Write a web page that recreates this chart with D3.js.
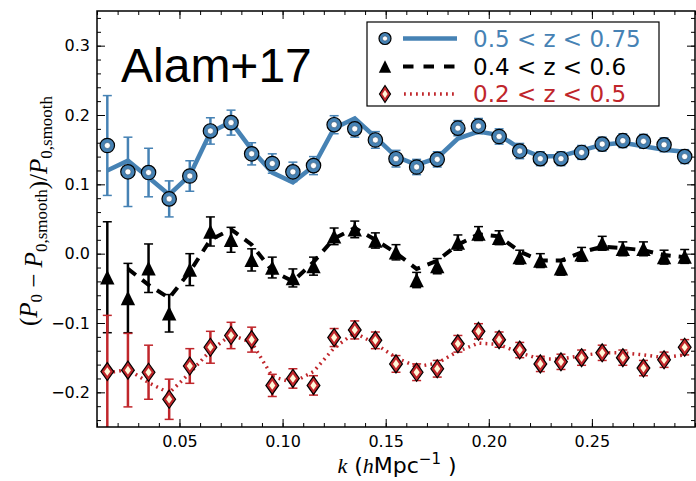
<!DOCTYPE html>
<html>
<head>
<meta charset="utf-8">
<script src="https://cdn.jsdelivr.net/npm/d3@7"></script>
<style>
  body { margin: 0; background: #fff; }
  .tick text { font-family: "DejaVu Sans", sans-serif; font-size: 16px; fill: #000; }
  .tick line { stroke: #000; stroke-width: 1; }
</style>
</head>
<body>
<svg id="chart" width="696" height="481"></svg>
<script>
// k bins (h/Mpc)
const kValues = [0.015, 0.025, 0.035, 0.045, 0.055, 0.065, 0.075, 0.085, 0.095, 0.105,
  0.115, 0.125, 0.135, 0.145, 0.155, 0.165, 0.175, 0.185, 0.195, 0.205,
  0.215, 0.225, 0.235, 0.245, 0.255, 0.265, 0.275, 0.285, 0.295];

// 0.5 < z < 0.75
const blueData = [0.156, 0.118, 0.117, 0.079, 0.112, 0.177, 0.189, 0.144, 0.130, 0.118,
  0.127, 0.186, 0.180, 0.164, 0.137, 0.125, 0.136, 0.181, 0.184, 0.169,
  0.148, 0.137, 0.137, 0.146, 0.158, 0.163, 0.162, 0.157, 0.140];
const blueErr = [0.072, 0.050, 0.035, 0.026, 0.022, 0.019, 0.018, 0.016, 0.014, 0.014,
  0.013, 0.013, 0.012, 0.012, 0.012, 0.011, 0.011, 0.011, 0.011, 0.011,
  0.011, 0.010, 0.010, 0.010, 0.010, 0.010, 0.010, 0.010, 0.010];
const blueModel = [0.120, 0.134, 0.110, 0.085, 0.113, 0.175, 0.190, 0.150, 0.117, 0.103,
  0.126, 0.181, 0.195, 0.168, 0.140, 0.128, 0.138, 0.166, 0.176, 0.171,
  0.152, 0.140, 0.141, 0.149, 0.157, 0.160, 0.155, 0.150, 0.147];

// 0.4 < z < 0.6
const blackData = [-0.034, -0.064, -0.021, -0.086, -0.023, 0.032, 0.020, -0.009, -0.020, -0.035,
  -0.018, 0.025, 0.035, 0.019, 0.002, -0.038, -0.018, 0.016, 0.029, 0.023,
  -0.005, -0.010, -0.021, -0.001, 0.015, 0.007, 0.007, -0.005, -0.004];
const blackErr = [0.080, 0.050, 0.035, 0.027, 0.023, 0.021, 0.018, 0.016, 0.015, 0.013,
  0.013, 0.012, 0.012, 0.011, 0.011, 0.011, 0.011, 0.011, 0.010, 0.010,
  0.010, 0.010, 0.010, 0.010, 0.010, 0.010, 0.010, 0.010, 0.010];
// model starts at the second bin
const blackModel = [null, -0.022, -0.045, -0.064, -0.026, 0.020, 0.035, 0.013, -0.025, -0.040,
  -0.012, 0.022, 0.037, 0.020, 0.001, -0.022, -0.010, 0.013, 0.028, 0.025,
  0.003, -0.010, -0.010, 0.002, 0.010, 0.008, 0.005, -0.002, -0.005];

// 0.2 < z < 0.5
const redData = [-0.170, -0.168, -0.171, -0.210, -0.162, -0.135, -0.118, -0.124, -0.190, -0.180,
  -0.190, -0.121, -0.110, -0.125, -0.159, -0.171, -0.166, -0.130, -0.112, -0.124,
  -0.139, -0.159, -0.156, -0.150, -0.143, -0.150, -0.165, -0.153, -0.135];
const redErr = [0.081, 0.053, 0.039, 0.029, 0.025, 0.023, 0.019, 0.018, 0.016, 0.014,
  0.014, 0.013, 0.013, 0.012, 0.012, 0.012, 0.012, 0.012, 0.011, 0.011,
  0.011, 0.011, 0.011, 0.011, 0.011, 0.011, 0.011, 0.011, 0.011];
const redModel = [-0.172, -0.167, -0.186, -0.201, -0.172, -0.140, -0.117, -0.128, -0.177, -0.186,
  -0.170, -0.136, -0.114, -0.130, -0.150, -0.163, -0.158, -0.141, -0.129, -0.131,
  -0.143, -0.152, -0.152, -0.147, -0.143, -0.143, -0.146, -0.150, -0.146];

const xTicks = [0.05, 0.10, 0.15, 0.20, 0.25];
const yTicks = [-0.2, -0.1, 0.0, 0.1, 0.2, 0.3];
const legendLabels = ['0.5 < z < 0.75', '0.4 < z < 0.6', '0.2 < z < 0.5'];

const blue = '#4682b4';
const red = '#c0262b';
const cream = '#fff6d8';

const svg = d3.select('#chart');
const plotLeft = 97, plotRight = 695, plotTop = 11, plotBottom = 427;

const x = d3.scaleLinear().domain([0.01, 0.30]).range([plotLeft, plotRight]);
const y = d3.scaleLinear().domain([-0.25, 0.35]).range([plotBottom, plotTop]);

svg.append('defs').append('clipPath').attr('id', 'clip')
  .append('rect').attr('x', plotLeft).attr('y', plotTop)
  .attr('width', plotRight - plotLeft).attr('height', plotBottom - plotTop);

// axes: major + minor ticks on all four sides, pointing in
const xMinor = d3.range(0.01, 0.3001, 0.01);
const yMinor = d3.range(-0.24, 0.3501, 0.02);

svg.append('g').attr('transform', `translate(0,${plotBottom})`)
  .call(d3.axisBottom(x).tickValues(xMinor).tickSize(-4).tickFormat(''));
svg.append('g').attr('transform', `translate(0,${plotBottom})`)
  .call(d3.axisBottom(x).tickValues(xTicks).tickSize(-8).tickPadding(9).tickFormat(d3.format('.2f')));
svg.append('g').attr('transform', `translate(0,${plotTop})`)
  .call(d3.axisTop(x).tickValues(xMinor).tickSize(-4).tickFormat(''));
svg.append('g').attr('transform', `translate(0,${plotTop})`)
  .call(d3.axisTop(x).tickValues(xTicks).tickSize(-8).tickFormat(''));

svg.append('g').attr('transform', `translate(${plotLeft},0)`)
  .call(d3.axisLeft(y).tickValues(yMinor).tickSize(-4).tickFormat(''));
svg.append('g').attr('transform', `translate(${plotLeft},0)`)
  .call(d3.axisLeft(y).tickValues(yTicks).tickSize(-8).tickPadding(7).tickFormat(d3.format('.1f')));
svg.append('g').attr('transform', `translate(${plotRight},0)`)
  .call(d3.axisRight(y).tickValues(yMinor).tickSize(-4).tickFormat(''));
svg.append('g').attr('transform', `translate(${plotRight},0)`)
  .call(d3.axisRight(y).tickValues(yTicks).tickSize(-8).tickFormat(''));

svg.selectAll('.domain').remove();

const plot = svg.append('g').attr('clip-path', 'url(#clip)');

// error bars
function errorBars(vals, errs, color, width) {
  const g = plot.append('g').attr('stroke', color);
  kValues.forEach((k, i) => {
    const cx = x(k), y0 = y(vals[i] - errs[i]), y1 = y(vals[i] + errs[i]);
    g.append('line').attr('x1', cx).attr('x2', cx).attr('y1', y0).attr('y2', y1)
      .attr('stroke-width', width);
    [y0, y1].forEach(yy => g.append('line')
      .attr('x1', cx - 4.5).attr('x2', cx + 4.5).attr('y1', yy).attr('y2', yy)
      .attr('stroke-width', 1.5));
  });
}
errorBars(blueData, blueErr, blue, 2.5);
errorBars(blackData, blackErr, '#000', 2.5);
errorBars(redData, redErr, red, 2.5);

// model lines
const line = d3.line()
  .defined(d => d[1] !== null)
  .x(d => x(d[0])).y(d => y(d[1]));
const pairs = arr => kValues.map((k, i) => [k, arr[i]]);

plot.append('path').datum(pairs(blueModel)).attr('d', line)
  .attr('fill', 'none').attr('stroke', blue).attr('stroke-width', 4.5);
plot.append('path').datum(pairs(blackModel)).attr('d', line)
  .attr('fill', 'none').attr('stroke', '#000').attr('stroke-width', 4)
  .attr('stroke-dasharray', '10,8');
plot.append('path').datum(pairs(redModel)).attr('d', line)
  .attr('fill', 'none').attr('stroke', red).attr('stroke-width', 3.5)
  .attr('stroke-dasharray', '1.8,4.2');

// markers
function circleMark(g, cx, cy, r) {
  g.append('circle').attr('cx', cx).attr('cy', cy).attr('r', r)
    .attr('fill', blue).attr('stroke', '#000').attr('stroke-width', 1.2);
  g.append('circle').attr('cx', cx).attr('cy', cy).attr('r', r * 0.42)
    .attr('fill', '#fff').attr('stroke', '#1d3d5c').attr('stroke-width', 0.5);
}
function triangleMark(g, cx, cy, h) {
  g.append('path')
    .attr('d', `M${cx},${cy - h}L${cx + h},${cy + h}L${cx - h},${cy + h}Z`)
    .attr('fill', '#000');
}
function diamondMark(g, cx, cy, w, h) {
  g.append('path')
    .attr('d', `M${cx},${cy - h}L${cx + w},${cy}L${cx},${cy + h}L${cx - w},${cy}Z`)
    .attr('fill', red).attr('stroke', '#000').attr('stroke-width', 1.2);
  g.append('path')
    .attr('d', `M${cx},${cy - h * 0.48}L${cx + w * 0.48},${cy}L${cx},${cy + h * 0.48}L${cx - w * 0.48},${cy}Z`)
    .attr('fill', cream);
}

const marks = plot.append('g');
kValues.forEach((k, i) => triangleMark(marks, x(k), y(blackData[i]), 7.2));
kValues.forEach((k, i) => diamondMark(marks, x(k), y(redData[i]), 6.4, 9));
kValues.forEach((k, i) => circleMark(marks, x(k), y(blueData[i]), 7.2));

// frame
svg.append('rect').attr('x', plotLeft).attr('y', plotTop)
  .attr('width', plotRight - plotLeft).attr('height', plotBottom - plotTop)
  .attr('fill', 'none').attr('stroke', '#000').attr('stroke-width', 1.5);

// title
svg.append('text').attr('x', 121).attr('y', 82)
  .attr('font-family', '"Liberation Sans", Arial, sans-serif').attr('font-size', 48)
  .text('Alam+17');

// legend
const lg = svg.append('g');
lg.append('rect').attr('x', 367).attr('y', 22).attr('width', 292).attr('height', 84)
  .attr('fill', '#fff').attr('stroke', '#000').attr('stroke-width', 1.2);
const rowY = [38.5, 66.5, 94];
const legendColors = [blue, '#000', red];
circleMark(lg, 385, rowY[0], 6);
triangleMark(lg, 385, rowY[1], 6.2);
diamondMark(lg, 385, rowY[2], 5.5, 8.5);
lg.append('line').attr('x1', 403).attr('x2', 457).attr('y1', rowY[0]).attr('y2', rowY[0])
  .attr('stroke', blue).attr('stroke-width', 4.5);
lg.append('line').attr('x1', 403).attr('x2', 457).attr('y1', rowY[1]).attr('y2', rowY[1])
  .attr('stroke', '#000').attr('stroke-width', 4).attr('stroke-dasharray', '10.5,10');
lg.append('line').attr('x1', 404).attr('x2', 457).attr('y1', rowY[2]).attr('y2', rowY[2])
  .attr('stroke', red).attr('stroke-width', 3.5).attr('stroke-dasharray', '1.8,4.2');
legendLabels.forEach((t, i) => {
  lg.append('text').attr('x', 473).attr('y', rowY[i]).attr('dy', '0.36em')
    .attr('font-family', '"DejaVu Sans", sans-serif').attr('font-size', 23)
    .attr('fill', legendColors[i]).text(t);
});

// x label
const xl = svg.append('text').attr('x', 397).attr('y', 473).attr('text-anchor', 'middle')
  .attr('font-family', '"DejaVu Sans", sans-serif').attr('font-size', 22);
xl.append('tspan').attr('font-family', '"Liberation Serif", serif').attr('font-style', 'italic').text('k');
xl.append('tspan').text(' (');
xl.append('tspan').attr('font-family', '"Liberation Serif", serif').attr('font-style', 'italic').text('h');
xl.append('tspan').text('Mpc');
xl.append('tspan').attr('font-size', 15).attr('dy', -9).text('−1');
xl.append('tspan').attr('dy', 9).text(' )');

// y label
const yl = svg.append('text').attr('transform', 'translate(37,211) rotate(-90)')
  .attr('text-anchor', 'middle')
  .attr('font-family', '"Liberation Serif", serif').attr('font-size', 25);
const P = () => yl.append('tspan').attr('font-style', 'italic').text('P');
const sub = t => {
  yl.append('tspan').attr('font-size', 17).attr('dy', 5).text(t);
  yl.append('tspan').attr('dy', -5).text('');
};
yl.append('tspan').text('(');
P(); sub('0');
yl.append('tspan').text(' − ');
P(); sub('0,smooth');
yl.append('tspan').text(')/');
P(); sub('0,smooth');
</script>
</body>
</html>
